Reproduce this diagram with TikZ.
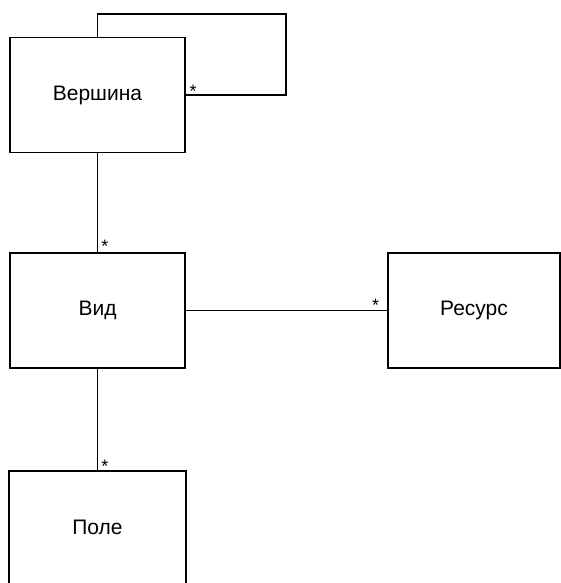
\documentclass[tikz,border=0pt]{standalone}
\usepackage{fontspec}
\setmainfont{Liberation Sans}
\begin{document}
\begin{tikzpicture}[x=1pt,y=-1pt,
  cls/.style={draw, line width=1.6pt, minimum width=175pt, minimum height=115pt,
    inner sep=0pt, font=\fontsize{21}{24}\selectfont},
  assoc/.style={line width=1.6pt},
  mult/.style={font=\fontsize{18}{18}\selectfont, inner sep=0pt}]
\clip (0,0) rectangle (561,583);
\fill[white] (0,0) rectangle (561,583);

% classes
\node[cls] (vert) at (97.5,95) {Вершина};
\node[cls] (vid)  at (97.5,310.5) {Вид};
\node[cls, minimum width=172pt] (res) at (474,310.5) {Ресурс};
\node[cls, draw=none, minimum height=111.5pt] (pole) at (97.5,527.25) {Поле};
\draw[line width=1.6pt] (pole.south west) -- (pole.north west) -- (pole.north east) -- (pole.south east);

% self-association of Вершина
\coordinate (loopc) at (286,14);
\draw[assoc] (vert.north) |- (loopc) |- (vert.east);
\node[mult] at (193,91) {*};

% associations
\draw[assoc] (vert.south) -- (vid.north);
\node[mult] at (105,246) {*};
\draw[assoc] (vid.east) -- (res.west);
\node[mult] at (375.5,305) {*};
\draw[assoc] (vid.south) -- (pole.north);
\node[mult] at (105,466) {*};
\end{tikzpicture}
\end{document}
